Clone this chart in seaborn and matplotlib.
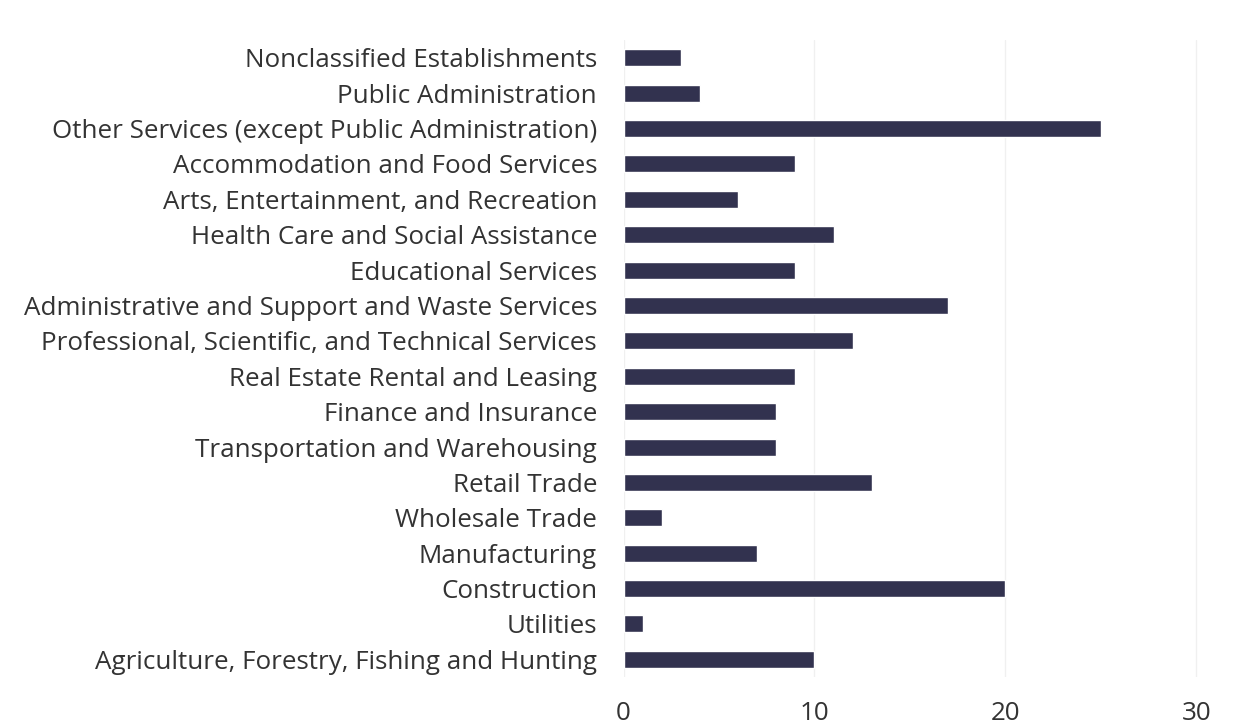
import matplotlib
matplotlib.use("Agg")
import matplotlib.pyplot as plt
import seaborn as sns
import pandas as pd

industries = [
    "Nonclassified Establishments",
    "Public Administration",
    "Other Services (except Public Administration)",
    "Accommodation and Food Services",
    "Arts, Entertainment, and Recreation",
    "Health Care and Social Assistance",
    "Educational Services",
    "Administrative and Support and Waste Services",
    "Professional, Scientific, and Technical Services",
    "Real Estate Rental and Leasing",
    "Finance and Insurance",
    "Transportation and Warehousing",
    "Retail Trade",
    "Wholesale Trade",
    "Manufacturing",
    "Construction",
    "Utilities",
    "Agriculture, Forestry, Fishing and Hunting",
]
counts = [3, 4, 25, 9, 6, 11, 9, 17, 12, 9, 8, 8, 13, 2, 7, 20, 1, 10]
x_ticks = [0, 10, 20, 30]


def main():
    df = pd.DataFrame({"industry": industries, "count": counts})

    sns.set_theme(style="white")
    plt.rcParams["font.family"] = ["Open Sans", "DejaVu Sans"]

    fig = plt.figure(figsize=(12.47, 7.28), dpi=100)
    ax = fig.add_axes([0.5, 0.07, 0.49, 0.875])

    sns.barplot(data=df, x="count", y="industry", color="#32324f",
                saturation=1, width=0.48, ax=ax)

    ax.set_xlim(0, 32)
    ax.set_xticks(x_ticks)
    ax.xaxis.grid(True, color="#f0f0f0", linewidth=1)
    ax.set_axisbelow(True)
    for s in ax.spines.values():
        s.set_visible(False)
    ax.set_xlabel("")
    ax.set_ylabel("")
    ax.tick_params(axis="both", length=0, labelsize=18.7, colors="#333333")
    ax.tick_params(axis="y", pad=19)
    ax.tick_params(axis="x", pad=17)

    fig.savefig("out.png", dpi=100)
    plt.close()


if __name__ == "__main__":
    main()
